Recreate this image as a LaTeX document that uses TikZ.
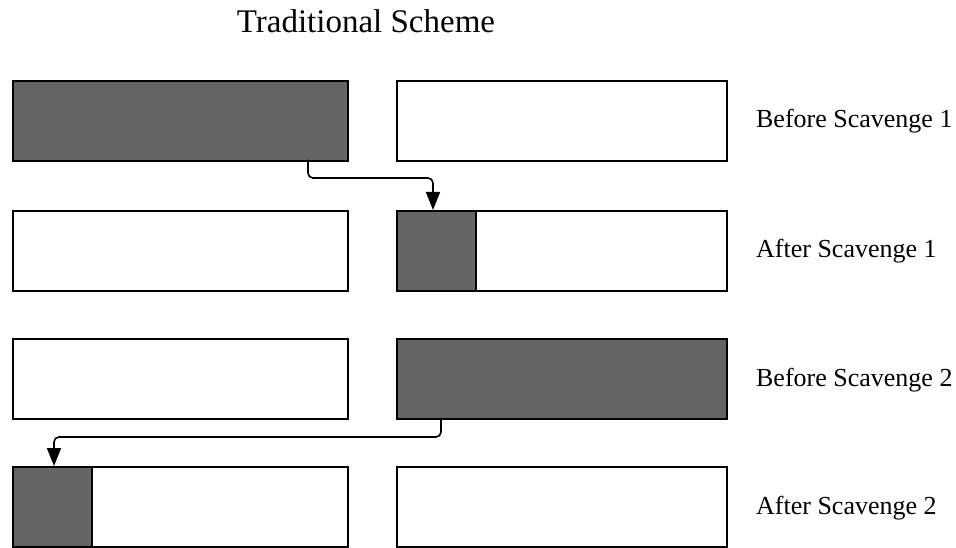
\documentclass[tikz,border=0pt]{standalone}
\usepackage{fontspec}
\setmainfont{Liberation Serif}
\usetikzlibrary{arrows.meta}
\definecolor{heap_gray}{RGB}{100,100,100}

\begin{document}
\begin{tikzpicture}[x=1pt,y=-1pt,line width=1.6pt]
    \tikzstyle{space}=[draw=black, rectangle, minimum height=80pt, anchor=north west, inner sep=0pt, fill=white]
    \tikzstyle{lspace}=[style=space, minimum width=335pt]
    \tikzstyle{rspace}=[style=space, minimum width=330pt]
    \tikzstyle{part}=[style=space, minimum width=79pt, fill=heap_gray]
    \tikzstyle{lbl}=[anchor=base west, font=\fontsize{26}{31}\selectfont]
    \tikzstyle{flow}=[rounded corners=5pt, -{Triangle[length=18pt,width=14pt]}]

    \useasboundingbox (0,0) rectangle (956,548);

    \node[anchor=base, font=\fontsize{33}{39}\selectfont] (title) at (366,33) {Traditional Scheme};

    % before scavenge 1
    \node[lspace, fill=heap_gray] (a1) at (12,80) {};
    \node[rspace] (b1) at (396,80) {};
    \node[lbl]    (l1) at (752,128) {Before Scavenge 1};
    % after scavenge 1
    \node[lspace] (a2) at (12,210)  {};
    \node[rspace] (b2) at (396,210) {};
    \node[part]   (p2) at (396,210) {};
    \node[lbl]    (l2) at (752,258) {After Scavenge 1};
    % before scavenge 2
    \node[lspace] (a3) at (12,338)  {};
    \node[rspace, fill=heap_gray] (b3) at (396,338) {};
    \node[lbl]    (l3) at (752,386) {Before Scavenge 2};
    % after scavenge 2
    \node[lspace] (a4) at (12,466)  {};
    \node[part]   (p4) at (12,466)  {};
    \node[rspace] (b4) at (396,466) {};
    \node[lbl]    (l4) at (752,514) {After Scavenge 2};

    \coordinate (s1) at (308,160);
    \coordinate (t1) at (433,210);
    \coordinate (s2) at (441,418);
    \coordinate (t2) at (54,466);
    \draw[flow] (s1) -- ++(0,18) -| (t1);
    \draw[flow] (s2) -- ++(0,19) -| (t2);
  \end{tikzpicture}
\end{document}
